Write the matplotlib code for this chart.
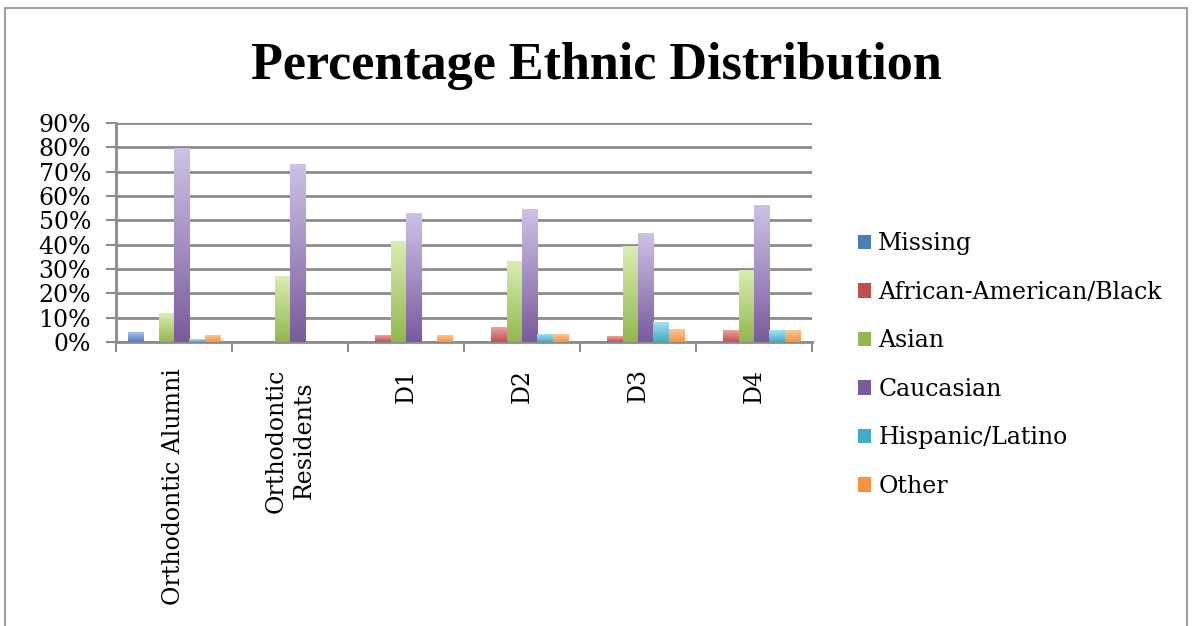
import numpy as np
import matplotlib
matplotlib.use("Agg")
import matplotlib.pyplot as plt
from matplotlib.colors import LinearSegmentedColormap
from matplotlib.patches import Rectangle

plt.rcParams['font.family'] = ['DejaVu Serif', 'Liberation Serif']

categories = ["Orthodontic Alumni", "Orthodontic\nResidents", "D1", "D2", "D3", "D4"]
series = ["Missing", "African-American/Black", "Asian", "Caucasian", "Hispanic/Latino", "Other"]
missing = [4.0, 0, 0, 0, 0, 0]
african = [0, 0, 2.8, 5.8, 2.4, 4.6]
asian = [11.6, 27.0, 41.1, 33.0, 39.4, 29.2]
caucasian = [79.4, 72.9, 52.8, 54.5, 44.5, 55.9]
hispanic = [1.0, 0, 0, 2.9, 7.9, 4.6]
other = [2.8, 0, 2.8, 2.9, 5.1, 4.6]
values = [missing, african, asian, caucasian, hispanic, other]

# (top light colour, bottom base colour) for each series, Excel 2007 style
colors = [("#a9c4ea", "#4a7ebb"), ("#eaa3a2", "#c0504d"), ("#d9edb2", "#93b84e"),
          ("#cdc1e6", "#7a5b9e"), ("#a6e0f0", "#40acc8"), ("#fcc79a", "#f7923f")]

fig = plt.figure(figsize=(11.92, 6.26), dpi=100)
ax = fig.add_axes([116 / 1192, 1 - 342 / 626, 696 / 1192, 219 / 626])

# outer chart frame
fig.patches.append(Rectangle((5 / 1192, -0.02), 1182 / 1192, 1 - 8 / 626 + 0.02,
                             transform=fig.transFigure, fill=False,
                             edgecolor="#a0a0a0", linewidth=1.5))

x = np.arange(len(categories))
bw = 0.8 / len(series)
for i, (name, vals) in enumerate(zip(series, values)):
    top, base = colors[i]
    cmap = LinearSegmentedColormap.from_list(name, [base, top])
    bars = ax.bar(x - 0.4 + bw * (i + 0.5), vals, width=bw, color=base,
                  label=name, zorder=3)
    for b in bars:
        h = b.get_height()
        if h <= 0:
            continue
        grad = np.linspace(0, 1, 64).reshape(-1, 1)
        ax.imshow(grad, extent=[b.get_x(), b.get_x() + b.get_width(), 0, h],
                  origin="lower", aspect="auto", cmap=cmap, zorder=4)

ax.set_xlim(-0.5, len(categories) - 0.5)
ax.set_ylim(0, 90)
ax.set_yticks(np.arange(0, 91, 10))
ax.set_yticklabels([f"{v}%" for v in range(0, 91, 10)], fontsize=17)
ax.yaxis.grid(True, color="#8c8c8c", linewidth=2, zorder=0)
ax.set_axisbelow(True)

ax.set_xticks(x)
ax.set_xticklabels(categories, rotation=90, fontsize=17, va="top", ha="center",
                   linespacing=1.3)
ax.tick_params(axis="x", length=0, pad=19)
ax.set_xticks(np.arange(-0.5, len(categories)), minor=True)
ax.tick_params(axis="x", which="minor", length=7, width=1.5, color="#8c8c8c")
ax.tick_params(axis="y", length=7, width=1.5, color="#8c8c8c", pad=11)

for s in ["top", "right"]:
    ax.spines[s].set_visible(False)
for s in ["left", "bottom"]:
    ax.spines[s].set_color("#8c8c8c")
    ax.spines[s].set_linewidth(2)

fig.text(596 / 1192, 1 - 79 / 626, "Percentage Ethnic Distribution", ha="center",
         va="baseline", fontsize=37.5, fontweight="bold", family="Liberation Serif")

leg = ax.legend(loc="center left", bbox_to_anchor=(837 / 1192, 1 - 365 / 626),
                bbox_transform=fig.transFigure, frameon=False, fontsize=17,
                handlelength=0.55, handleheight=0.55, handletextpad=0.3,
                labelspacing=1.08)

fig.savefig("out.png", dpi=100)
